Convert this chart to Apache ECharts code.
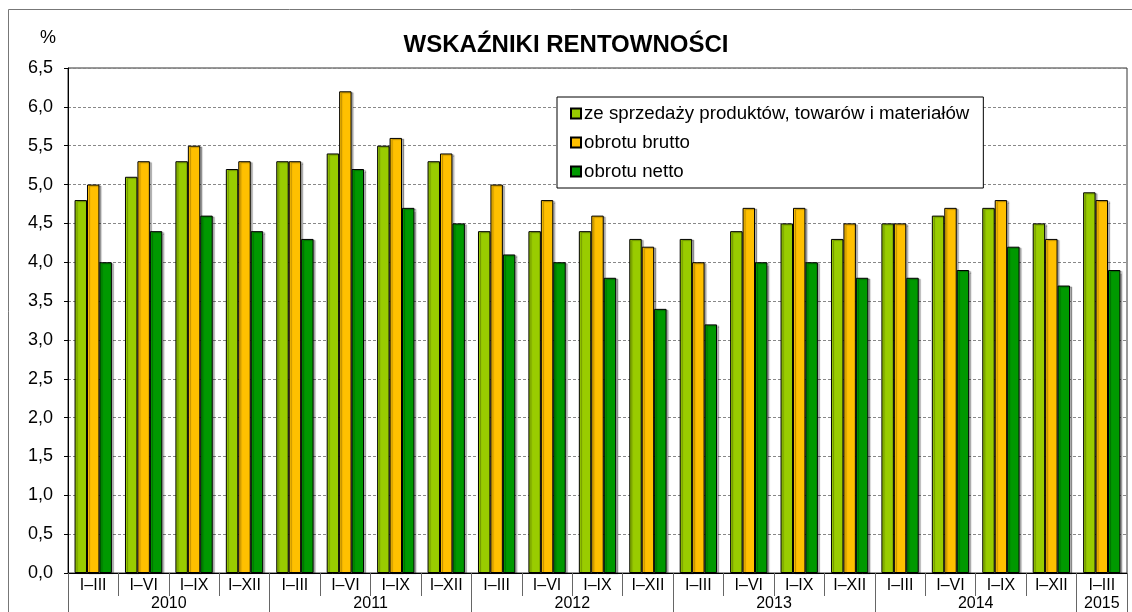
<!DOCTYPE html>
<html>
<head>
<meta charset="utf-8">
<script src="https://cdn.jsdelivr.net/npm/echarts@6/dist/echarts.min.js"></script>
<style>
  html, body { margin: 0; padding: 0; background: #fff; }
  #chart { width: 1132px; height: 612px; }
</style>
</head>
<body>
<div id="chart"></div>
<script>
const periods = ['I–III', 'I–VI', 'I–IX', 'I–XII', 'I–III', 'I–VI', 'I–IX', 'I–XII',
  'I–III', 'I–VI', 'I–IX', 'I–XII', 'I–III', 'I–VI', 'I–IX', 'I–XII',
  'I–III', 'I–VI', 'I–IX', 'I–XII', 'I–III']
const years = ['2010', '2011', '2012', '2013', '2014', '2015']
// year label positions and year boundaries, in category units
const yearCenters = [2, 6, 10, 14, 18, 20.5]
const yearBounds = [0, 4, 8, 12, 16, 20, 21]

const sprzedaz = [4.8, 5.1, 5.3, 5.2, 5.3, 5.4, 5.5, 5.3, 4.4, 4.4, 4.4, 4.3, 4.3, 4.4, 4.5, 4.3, 4.5, 4.6, 4.7, 4.5, 4.9]
const brutto = [5.0, 5.3, 5.5, 5.3, 5.3, 6.2, 5.6, 5.4, 5.0, 4.8, 4.6, 4.2, 4.0, 4.7, 4.7, 4.5, 4.5, 4.7, 4.8, 4.3, 4.8]
const netto = [4.0, 4.4, 4.6, 4.4, 4.3, 5.2, 4.7, 4.5, 4.1, 4.0, 3.8, 3.4, 3.2, 4.0, 4.0, 3.8, 3.8, 3.9, 4.2, 3.7, 3.9]

const font = 'Liberation Sans, Arial, sans-serif'

const myChart = echarts.init(document.getElementById('chart'))

function barSeries (name, data, color) {
  return {
    name: name,
    type: 'bar',
    data: data,
    barGap: '0%',
    barCategoryGap: '26%',
    itemStyle: {
      color: color,
      borderColor: '#000',
      borderWidth: 1,
      shadowColor: 'rgba(0,0,0,0.3)',
      shadowOffsetX: 2,
      shadowOffsetY: 1,
      shadowBlur: 1
    }
  }
}

myChart.setOption({
  animation: false,
  textStyle: { fontFamily: font },
  title: {
    text: 'WSKAŹNIKI RENTOWNOŚCI',
    left: 561,
    textAlign: 'center',
    top: 28,
    textStyle: { fontSize: 24, fontWeight: 'bold', color: '#000', fontFamily: font }
  },
  graphic: [{
    type: 'rect',
    shape: { x: 8.5, y: 9.5, width: 1140, height: 620 },
    style: { fill: 'none', stroke: '#777', lineWidth: 1 },
    silent: true,
    z: -1
  }],
  legend: {
    orient: 'vertical',
    left: 557,
    top: 97,
    padding: [7, 14, 7, 13],
    itemGap: 10,
    itemWidth: 10,
    itemHeight: 10,
    icon: 'rect',
    backgroundColor: '#fff',
    borderColor: '#000',
    borderWidth: 1,
    textStyle: { fontSize: 18.7, color: '#000', fontFamily: font, padding: [0, 0, 0, -2] },
    data: ['ze sprzedaży produktów, towarów i materiałów', 'obrotu brutto', 'obrotu netto']
  },
  grid: {
    left: 68,
    right: 5,
    top: 68,
    bottom: 39,
    show: true,
    borderColor: '#333',
    borderWidth: 1,
    containLabel: false
  },
  xAxis: [
    {
      type: 'category',
      data: periods,
      position: 'bottom',
      axisLine: { lineStyle: { color: '#000', width: 1 } },
      axisTick: { show: true, length: 23, lineStyle: { color: '#666' } },
      axisLabel: { fontSize: 16, color: '#000', margin: 5, interval: 0 }
    },
    {
      type: 'value',
      min: 0,
      max: 21,
      position: 'bottom',
      axisLine: { show: false },
      splitLine: { show: false },
      axisTick: { show: true, length: 45, customValues: yearBounds, lineStyle: { color: '#666' } },
      axisLabel: {
        customValues: yearCenters,
        fontSize: 16,
        color: '#000',
        margin: 23,
        formatter: function (v) {
          return years[yearCenters.indexOf(v)]
        }
      }
    }
  ],
  yAxis: {
    type: 'value',
    min: 0,
    max: 6.5,
    interval: 0.5,
    name: '%',
    nameLocation: 'end',
    nameGap: 21,
    nameTextStyle: { fontSize: 18, color: '#000', align: 'right', padding: [0, 12, 0, 0] },
    axisLine: { show: true, lineStyle: { color: '#000', width: 1 } },
    axisTick: { show: true, inside: false, length: 4, lineStyle: { color: '#000' } },
    axisLabel: {
      fontSize: 18,
      color: '#000',
      margin: 15,
      formatter: function (v) { return v.toFixed(1).replace('.', ',') }
    },
    splitLine: { show: true, lineStyle: { color: '#888', type: [3, 2], width: 1 } }
  },
  series: [
    barSeries('ze sprzedaży produktów, towarów i materiałów', sprzedaz, '#99CC00'),
    barSeries('obrotu brutto', brutto, '#FFC000'),
    barSeries('obrotu netto', netto, '#009900')
  ]
})
window.addEventListener('resize', () => {
  myChart.resize()
})
</script>
</body>
</html>
